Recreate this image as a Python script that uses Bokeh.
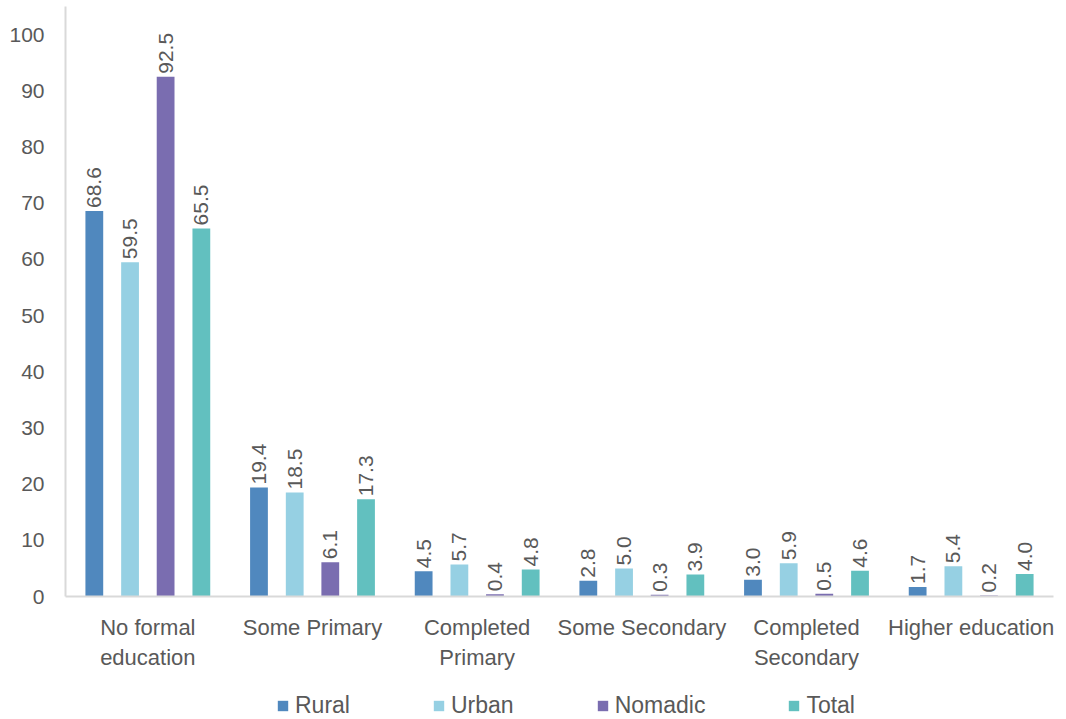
import math
from bokeh.plotting import figure
from bokeh.layouts import column
from bokeh.models import ColumnDataSource, Range1d, FixedTicker, Legend, LegendItem
from bokeh.core.properties import value
from bokeh.embed import file_html
from bokeh.resources import INLINE

categories = ["No formal\neducation", "Some Primary", "Completed\nPrimary",
              "Some Secondary", "Completed\nSecondary", "Higher education"]
series_names = ["Rural", "Urban", "Nomadic", "Total"]
rural = [68.6, 19.4, 4.5, 2.8, 3.0, 1.7]
urban = [59.5, 18.5, 5.7, 5.0, 5.9, 5.4]
nomadic = [92.5, 6.1, 0.4, 0.3, 0.5, 0.2]
total = [65.5, 17.3, 4.8, 3.9, 4.6, 4.0]
y_ticks = [0, 10, 20, 30, 40, 50, 60, 70, 80, 90, 100]

series_values = [rural, urban, nomadic, total]
colors = ["#5088be", "#96d0e3", "#7a6db0", "#62c0bf"]
offsets = [-0.325, -0.108, 0.108, 0.325]
FONT = "Liberation Sans"
TXT = "#595959"

p = figure(width=1066, height=680, output_backend="svg", toolbar_location=None,
           x_range=Range1d(-0.5, 5.5), y_range=Range1d(0, 105),
           min_border_left=65, min_border_right=13, min_border_top=6, min_border_bottom=84)
p.outline_line_color = None
p.xgrid.visible = False
p.ygrid.visible = False

for name, vals, col, off in zip(series_names, series_values, colors, offsets):
    xs = [i + off for i in range(len(categories))]
    src = ColumnDataSource(dict(x=xs, top=vals, lab=["%.1f" % v for v in vals]))
    p.vbar(x="x", top="top", width=0.108, source=src, fill_color=col, line_color=None)
    p.text(x="x", y="top", text="lab", source=src, angle=math.pi / 2,
           text_align="left", text_baseline="middle", y_offset=-3,
           text_font=value(FONT), text_font_size="21px", text_color=TXT)

p.xaxis.ticker = FixedTicker(ticks=list(range(len(categories))))
p.xaxis.major_label_overrides = {i: c for i, c in enumerate(categories)}
p.yaxis.ticker = FixedTicker(ticks=y_ticks)
for ax in (p.xaxis, p.yaxis):
    ax.major_tick_line_color = None
    ax.minor_tick_line_color = None
    ax.axis_line_color = "#d9d9d9"
    ax.axis_line_width = 2
    ax.major_label_text_font = FONT
    ax.major_label_text_color = TXT
p.xaxis.major_label_text_font_size = "22px"
p.yaxis.major_label_text_font_size = "21px"
p.xaxis.major_label_standoff = 12
p.yaxis.major_label_standoff = 15

# legend strip below the chart (swatch renderers hold no visible marks)
lg = figure(width=1066, height=39, output_backend="svg", toolbar_location=None,
            x_range=Range1d(0, 1), y_range=Range1d(0, 1),
            min_border_left=0, min_border_right=0, min_border_top=0, min_border_bottom=0)
lg.axis.visible = False
lg.grid.visible = False
lg.outline_line_color = None
items = []
for name, col in zip(series_names, colors):
    r = lg.vbar(x=[math.nan], top=[math.nan], width=0.1, fill_color=col, line_color=None)
    items.append(LegendItem(label=name, renderers=[r]))
legend = Legend(items=items, orientation="horizontal", location=(211, 0),
                glyph_width=13, glyph_height=13, spacing=82, label_standoff=6,
                label_text_font=FONT, label_text_font_size="23px", label_text_color=TXT,
                border_line_color=None, background_fill_alpha=0, padding=0, margin=0)
lg.add_layout(legend, "center")

open("out.html", "w").write(file_html(column(p, lg, spacing=0), INLINE))
